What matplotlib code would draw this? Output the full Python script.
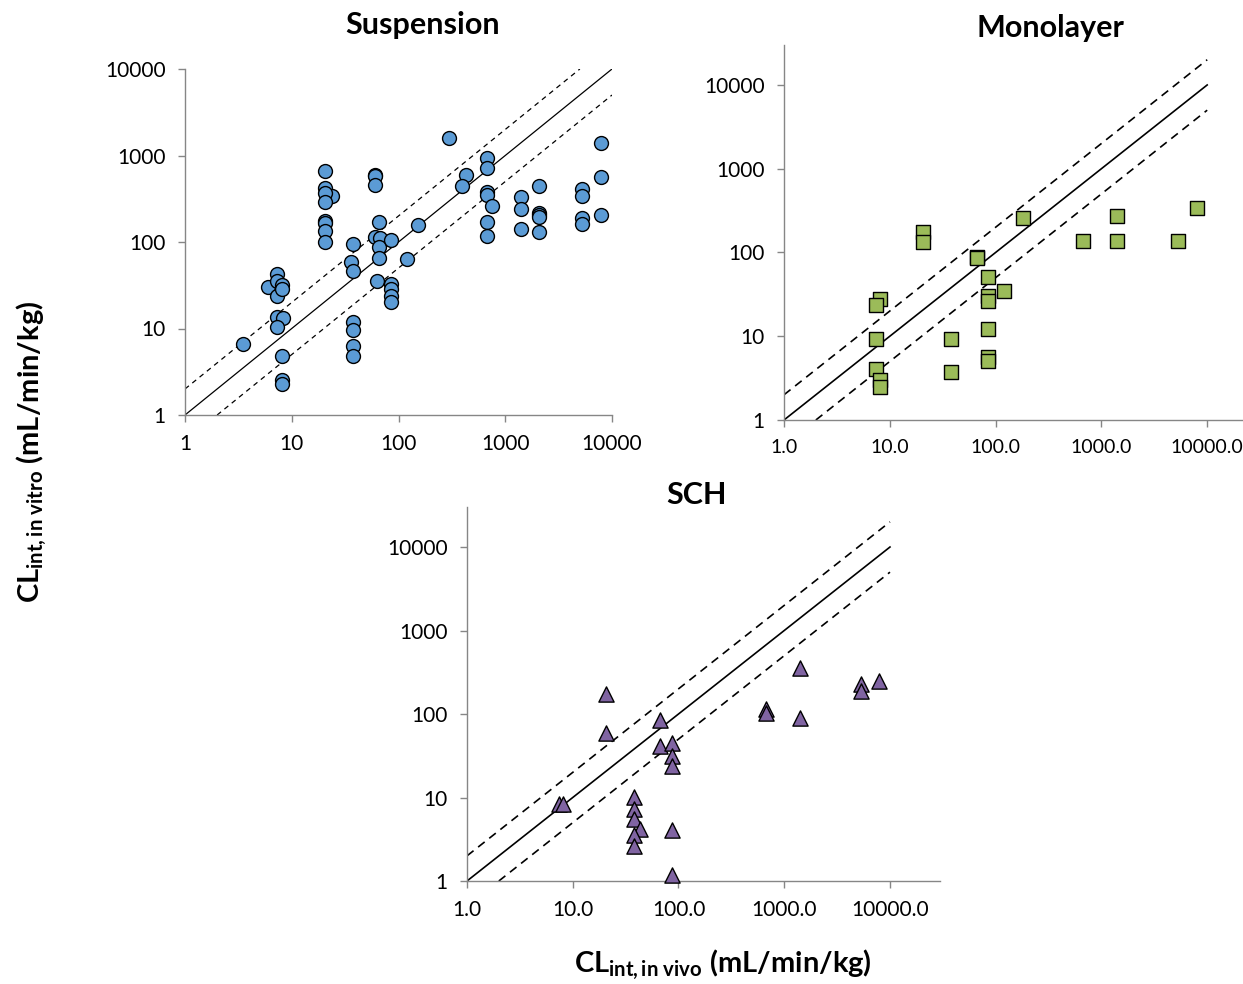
import matplotlib
matplotlib.use("Agg")
import matplotlib.pyplot as plt
from matplotlib.ticker import FixedLocator, FixedFormatter, NullLocator

plt.rcParams['font.family'] = ['Lato', 'DejaVu Sans']
plt.rcParams['mathtext.fontset'] = 'custom'
plt.rcParams['mathtext.rm'] = 'Lato'
plt.rcParams['mathtext.bf'] = 'Lato:bold'
plt.rcParams['mathtext.it'] = 'Lato:italic'

# ---------------- data ----------------
susp_x = [20.5, 20.5, 23.7, 20.5, 20.5, 20.5, 20.5, 20.5, 20.5,
          60, 60, 60, 65.6, 60, 67, 65.6, 85, 65.6,
          37.7, 35.9, 37.7, 62.5, 85, 85, 85, 85,
          37.7, 37.7, 37.7, 37.7,
          119, 153,
          7.2, 6.0, 7.2, 8.05, 7.2, 8.1, 7.2, 8.2, 7.2,
          3.47, 8.05, 8.05, 8.05,
          297, 670, 670, 426, 391, 670, 670, 747, 670, 670,
          1396, 1396, 1396,
          2070, 2070, 2070, 2070, 2070,
          5200, 5200, 5200, 5200,
          7890, 7890, 7890]
susp_y = [661, 425, 343, 366, 292, 176, 165, 134, 99,
          595, 575, 456, 172, 115, 110, 88, 105, 65,
          95, 58, 46, 35.4, 33, 29, 24, 20,
          12, 9.6, 6.2, 4.8,
          64, 157,
          43, 30, 35, 32, 24, 29, 13.7, 13.1, 10.5,
          6.7, 4.85, 2.54, 2.26,
          1607, 927, 711, 595, 444, 376, 349, 261, 169, 118,
          328, 240, 141,
          444, 218, 205, 193, 129,
          410, 340, 191, 160,
          1406, 569, 205]

mono_x = [20.5, 20.5, 183, 66, 66, 85, 120, 85, 85, 85, 85, 85,
          37.9, 37.9, 8.0, 7.36, 7.36, 7.36, 8.0, 8.0,
          675, 1396, 1396, 5260, 7950]
mono_y = [177, 135, 256, 89, 85, 51, 35, 30, 26, 12.1, 5.7, 5.0,
          9.3, 3.7, 27.6, 23.6, 9.2, 4.06, 3.0, 2.5,
          137, 275, 137, 137, 337]

sch_x = [20.5, 20.5, 66.8, 66.8, 86, 86, 86, 86, 86,
         7.46, 8.1, 38.2, 38.2, 38.2, 43, 38.2, 38.2,
         672, 672, 1409, 1409, 5320, 5320, 7940]
sch_y = [174, 59, 85, 41, 45, 31, 24, 4.1, 1.18,
         8.4, 8.4, 10.2, 7.2, 5.6, 4.2, 3.6, 2.6,
         114, 102, 352, 90, 227, 190, 251]

decades = [1, 10, 100, 1000, 10000]
labels_int = ['1', '10', '100', '1000', '10000']
labels_dec = ['1.0', '10.0', '100.0', '1000.0', '10000.0']

# ---------------- figure ----------------
W, H = 1243, 984
fig = plt.figure(figsize=(W / 100, H / 100), dpi=100)


def px_axes(left, top, right, bottom):
    return fig.add_axes([left / W, 1 - bottom / H, (right - left) / W, (bottom - top) / H])


def style(ax, xlim, ylim, xlabels, ylabels, xsize=15):
    ax.set_xscale('log')
    ax.set_yscale('log')
    ax.set_xlim(*xlim)
    ax.set_ylim(*ylim)
    for s in ['top', 'right']:
        ax.spines[s].set_visible(False)
    for s in ['left', 'bottom']:
        ax.spines[s].set_color('#868686')
        ax.spines[s].set_linewidth(1.0)
    ax.xaxis.set_major_locator(FixedLocator(decades))
    ax.xaxis.set_major_formatter(FixedFormatter(xlabels))
    ax.yaxis.set_major_locator(FixedLocator(decades))
    ax.yaxis.set_major_formatter(FixedFormatter(ylabels))
    ax.xaxis.set_minor_locator(NullLocator())
    ax.yaxis.set_minor_locator(NullLocator())
    ax.tick_params(axis='both', which='major', length=5, width=1.0, color='#868686',
                   labelsize=15, labelcolor='black')
    ax.tick_params(axis='x', pad=9, labelsize=xsize)
    ax.tick_params(axis='y', pad=9)
    ax.patch.set_alpha(0)


# Suspension
ax1 = px_axes(185, 69, 612, 415)
style(ax1, (1, 10000), (1, 10000), labels_int, labels_int)
ax1.plot([1, 10000], [1, 10000], color='black', lw=0.9, zorder=2)
ax1.plot([1, 5000], [2, 10000], color='black', lw=0.9, ls=(0, (4, 3.5)), zorder=2)
ax1.plot([2, 10000], [1, 5000], color='black', lw=0.9, ls=(0, (4, 3.5)), zorder=2)
ax1.scatter(susp_x, susp_y, s=100, marker='o', facecolor='#5B9BD5', edgecolor='black',
            linewidth=1.0, zorder=3, clip_on=False)
fig.text(423 / W, 1 - 25 / H, 'Suspension', fontsize=22, fontweight='bold',
         ha='center', va='center')

# Monolayer
ax2 = px_axes(784, 45, 784 + 105.8 * 4.477, 420)
style(ax2, (1, 30000), (1, 30000), labels_dec, labels_int, xsize=14)
ax2.plot([1, 10000], [1, 10000], color='black', lw=1.2, zorder=2)
ax2.plot([1, 10000], [2, 20000], color='black', lw=1.2, ls=(0, (5, 3.5)), zorder=2)
ax2.plot([2, 10000], [1, 5000], color='black', lw=1.2, ls=(0, (5, 3.5)), zorder=2)
ax2.scatter(mono_x, mono_y, s=90, marker='s', facecolor='#9BBB59', edgecolor='black',
            linewidth=1.0, zorder=3, clip_on=False)
fig.text(1050 / W, 1 - 28 / H, 'Monolayer', fontsize=22, fontweight='bold',
         ha='center', va='center')

# SCH
ax3 = px_axes(467, 881 - 83.5 * 4.477, 467 + 105.75 * 4.477, 881)
style(ax3, (1, 30000), (1, 30000), labels_dec, labels_int)
ax3.plot([1, 10000], [1, 10000], color='black', lw=1.2, zorder=2)
ax3.plot([1, 10000], [2, 20000], color='black', lw=1.2, ls=(0, (5, 3.5)), zorder=2)
ax3.plot([2, 10000], [1, 5000], color='black', lw=1.2, ls=(0, (5, 3.5)), zorder=2)
ax3.scatter(sch_x, sch_y, s=120, marker='^', facecolor='#8064A2', edgecolor='black',
            linewidth=1.0, zorder=3, clip_on=False)
fig.text(697 / W, 1 - 495 / H, 'SCH', fontsize=22, fontweight='bold',
         ha='center', va='center')

# Axis labels
fig.text(723 / W, 1 - 965 / H, r'$\mathbf{CL}_{\mathbf{int,in\ vivo}}$ (mL/min/kg)',
         fontsize=21, fontweight='bold', ha='center', va='center')
fig.text(32 / W, 1 - 452 / H, r'$\mathbf{CL}_{\mathbf{int,in\ vitro}}$ (mL/min/kg)',
         fontsize=21, fontweight='bold', ha='center', va='center', rotation=90)

fig.savefig('out.png', dpi=100)
